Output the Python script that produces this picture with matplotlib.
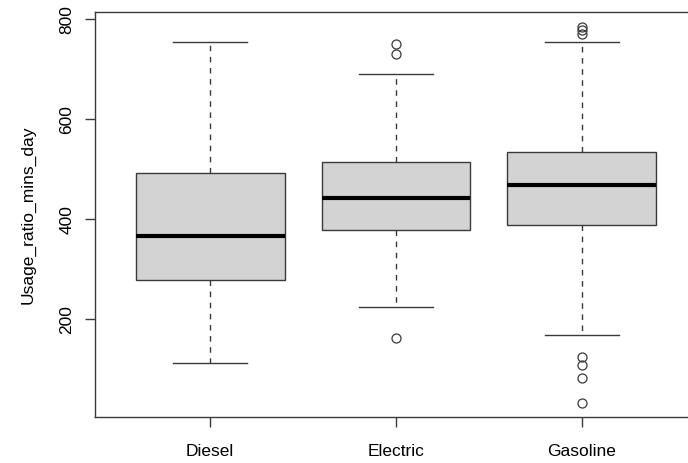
import matplotlib
matplotlib.use('Agg')
import matplotlib.pyplot as plt

# values
categories = ['Diesel', 'Electric', 'Gasoline']
whisker_low = [113, 225, 168]
q1 = [278, 379, 388]
median = [367, 442, 469]
q3 = [492, 514, 535]
whisker_high = [755, 690, 754]
outliers = [
    [],
    [750, 730, 163],
    [785, 779, 770, 125, 109, 83, 33],
]

plt.rcParams['font.family'] = ['Liberation Sans', 'DejaVu Sans']

fig = plt.figure(figsize=(6.88, 4.64), dpi=100)
# right edge of the frame falls outside the picture, as in the reference
ax = fig.add_axes([95 / 688, 46.3 / 464, 602 / 688, 405 / 464])

stats = []
for i, name in enumerate(categories):
    stats.append({
        'label': name,
        'whislo': whisker_low[i],
        'q1': q1[i],
        'med': median[i],
        'q3': q3[i],
        'whishi': whisker_high[i],
        'fliers': outliers[i],
    })

edge = '#3a3a3a'
ax.bxp(stats, positions=[1, 2, 3], widths=0.8, patch_artist=True,
       boxprops=dict(facecolor='#D3D3D3', edgecolor=edge, linewidth=1),
       whiskerprops=dict(color=edge, linewidth=1, linestyle=(0, (4, 4))),
       capprops=dict(color=edge, linewidth=1),
       medianprops=dict(color='black', linewidth=3, solid_capstyle='butt'),
       flierprops=dict(marker='o', markerfacecolor='none', markeredgecolor=edge,
                       markersize=6.5, markeredgewidth=0.9))

ax.set_xlim(0.38, 3.62)
ax.set_ylim(4.6, 814.6)
ax.set_yticks([200, 400, 600, 800])
ax.set_yticklabels(['200', '400', '600', '800'], rotation=90, va='center')
ax.set_xticks([1, 2, 3])
ax.set_xticklabels(categories)
ax.tick_params(axis='both', length=7, width=1, color=edge, labelsize=12.5)
ax.tick_params(axis='y', pad=8)
ax.tick_params(axis='x', pad=12)
ax.set_ylabel('Usage_ratio_mins_day', fontsize=12.5, labelpad=17)
for side in ax.spines.values():
    side.set_color(edge)
    side.set_linewidth(1)

plt.savefig('out.png', dpi=100)
plt.close()
